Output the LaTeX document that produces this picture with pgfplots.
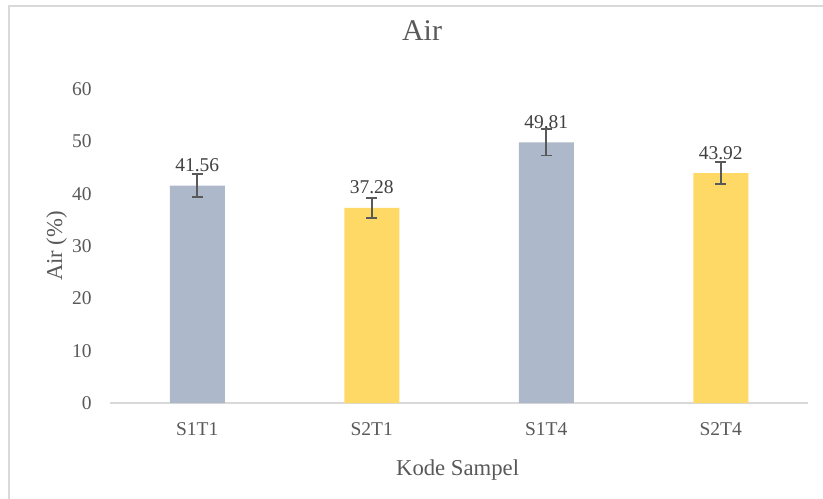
\documentclass[border=0pt]{standalone}
\usepackage{fontspec}
\setmainfont{Liberation Serif}
\usepackage{pgfplots}
\pgfplotsset{compat=1.18}
\definecolor{txt}{HTML}{595959}
\definecolor{lbl}{HTML}{404040}
\definecolor{bluegray}{HTML}{ADB9CA}
\definecolor{gold}{HTML}{FFD966}
\definecolor{axisgray}{HTML}{D9D9D9}
\definecolor{errc}{HTML}{595959}
\begin{document}
\begin{tikzpicture}[x=1pt,y=1pt]
\path[use as bounding box] (-55,-47.5) rectangle (356.5,201.5);
\draw[axisgray, line width=0.9pt] (-50.5,-60) -- (-50.5,198.5) -- (370,198.5);
\begin{axis}[
  at={(0,0)}, anchor=south west,
  scale only axis, width=349pt, height=157pt,
  xmin=-0.5, xmax=3.5, ymin=0, ymax=60,
  ytick={0,10,...,60},
  xtick={0,1,2,3}, xticklabels={S1T1,S2T1,S1T4,S2T4},
  axis lines*=left,
  y axis line style={draw=none},
  x axis line style={draw=axisgray, line width=0.75pt, -},
  major tick length=0pt,
  /pgf/number format/assume math mode=true,
  tick label style={text=txt, font=\fontsize{9.75}{11.7}\selectfont},
  xticklabel style={anchor=base, yshift=-16pt},
  yticklabel style={anchor=east, inner sep=0pt, xshift=-9pt},
  title={Air},
  title style={at={(rel axis cs:0.447,1.115)}, anchor=base, text=txt, font=\fontsize{15}{18}\selectfont},
  xlabel={Kode Sampel},
  xlabel style={at={(axis description cs:0.498,0)}, anchor=base, yshift=-36pt, text=txt, font=\fontsize{11.35}{13.6}\selectfont},
  ylabel={Air (\%)},
  ylabel style={at={(axis description cs:0,0.5)}, anchor=base, yshift=24pt, text=txt, font=\fontsize{11.35}{13.6}\selectfont},
  ybar, bar width=27.5pt, bar shift=0pt,
  nodes near coords={\pgfmathprintnumber[fixed,fixed zerofill,precision=2]{\pgfplotspointmeta}},
  nodes near coords style={anchor=base, yshift=7pt, text=lbl, font=\fontsize{9.75}{11.7}\selectfont},
  error bars/error bar style={errc, line width=0.8pt},
  error bars/error mark options={rotate=90, mark size=2.75pt, line width=0.8pt, errc},
]
\addplot[fill=bluegray, draw=none, error bars/.cd, y dir=both, y explicit]
  table[x=x, y=y, y error=e] {
x y e
0 41.56 2.2
2 49.81 2.5
};
\addplot[fill=gold, draw=none, error bars/.cd, y dir=both, y explicit]
  table[x=x, y=y, y error=e] {
x y e
1 37.28 1.9
3 43.92 2.1
};
\end{axis}
\end{tikzpicture}
\end{document}
